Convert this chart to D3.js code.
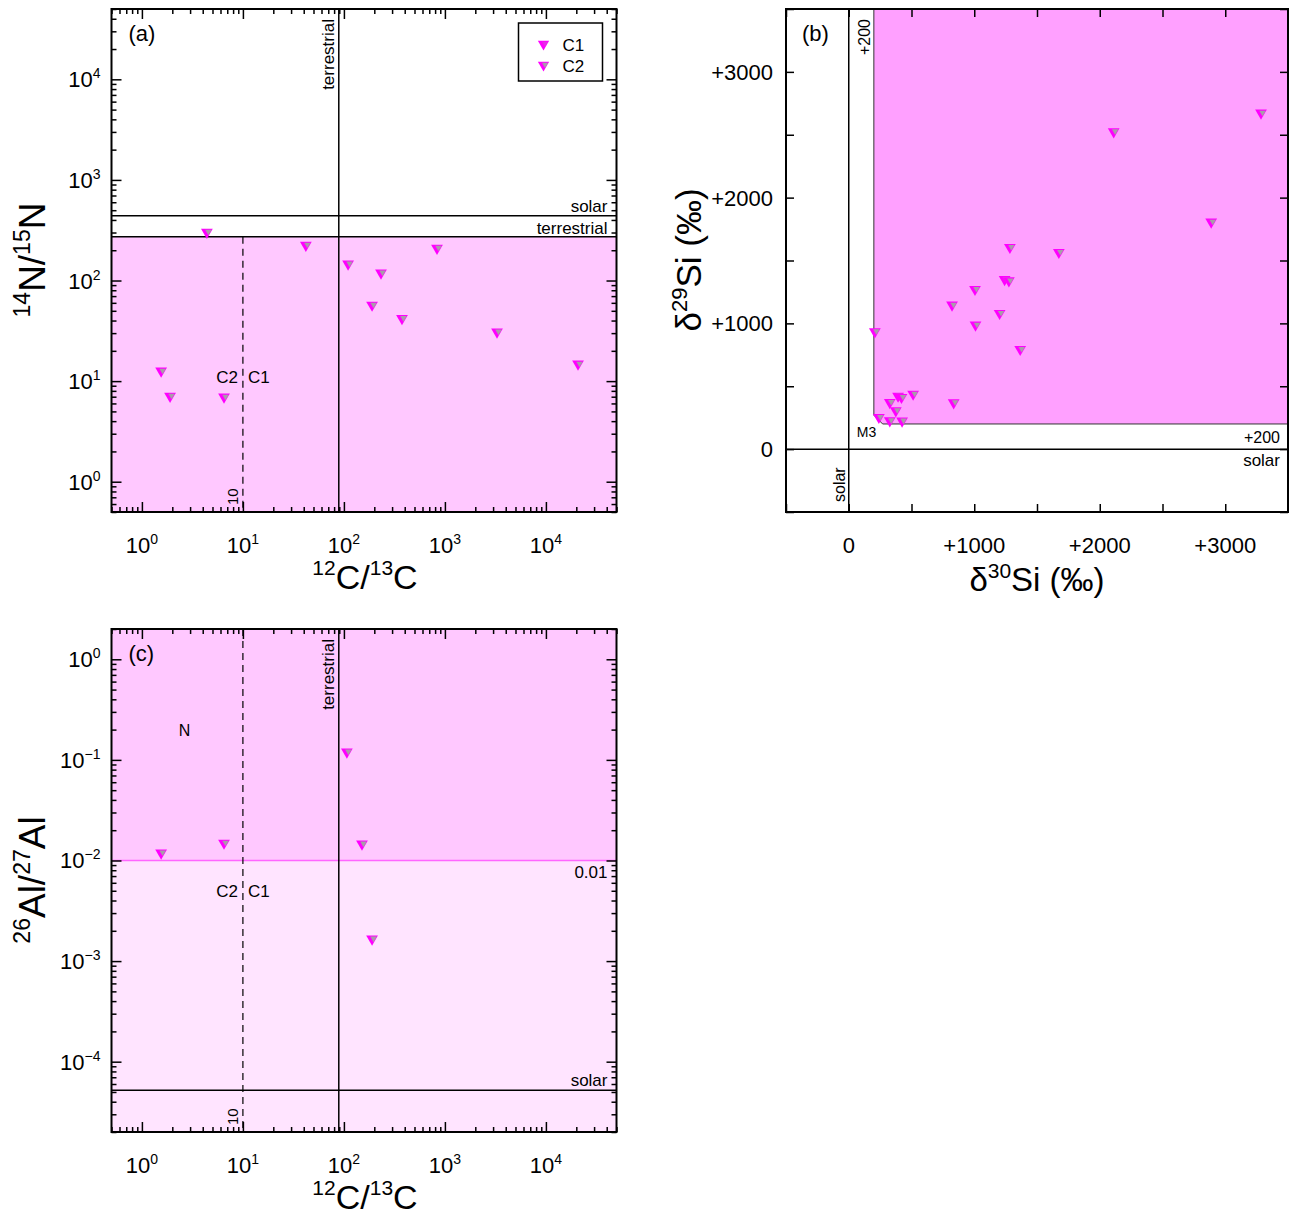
<!DOCTYPE html>
<html>
<head>
<meta charset="utf-8">
<script src="https://cdn.jsdelivr.net/npm/d3@7"></script>
<style>
  body { margin: 0; background: #fff; }
  text { font-family: "Liberation Sans", Arial, sans-serif; fill: #000; }
</style>
</head>
<body>
<svg id="fig" width="1289" height="1218"></svg>
<script>
// ---- data ----
// panel (a): 12C/13C vs 14N/15N
const panelA_C = [4.4, 42, 110, 233, 835, 190, 376, 3280, 20800, 1.55, 1.9, 6.5];
const panelA_N = [303, 225, 146, 119, 210, 57, 42, 30.8, 14.8, 12.6, 7.1, 6.95];
// panel (b): delta30Si vs delta29Si (permil)
const panelB_Si30 = [3285, 2111, 2888, 1284, 1674, 1242, 1276, 1006, 823, 1202, 1010, 208, 1366, 513, 393, 420, 327, 836, 375, 240, 327, 425];
const panelB_Si29 = [2673, 2524, 1806, 1605, 1565, 1350, 1339, 1271, 1146, 1080, 987, 934, 794, 438, 422, 412, 372, 369, 306, 253, 226, 224];
// panel (c): 12C/13C vs 26Al/27Al
const panelC_C = [1.55, 6.5, 107, 151, 190];
const panelC_Al = [0.0119, 0.0149, 0.12, 0.0146, 0.00166];

// reference values
const solarN = 441, terrN = 272, terrC = 89, splitC = 10;
const alLimit = 0.01, solarAl = 5.2e-5, siLimit = 200;
const logTicksA = [1, 10, 100, 1000, 10000];
const logTicksC = [1e-4, 1e-3, 1e-2, 1e-1, 1];
const expA = ["0", "1", "2", "3", "4"];
const expC = ["\u22124", "\u22123", "\u22122", "\u22121", "0"];
const linTicksB = [0, 1000, 2000, 3000];
const linLabelsB = ["0", "+1000", "+2000", "+3000"];
const legendNames = ["C1", "C2"];

const svg = d3.select("#fig");
const magenta = "#ff00ff";
const W = 505, H = 503;

// text with superscripts: parts are strings or {s: "..."}
function rich(sel, parts, size, supSize, rise) {
  let up = false;
  parts.forEach(p => {
    const isSup = typeof p !== "string";
    const t = sel.append("tspan").text(isSup ? p.s : p);
    if (isSup) { t.attr("font-size", supSize); if (!up) t.attr("dy", -rise); up = true; }
    else { t.attr("font-size", size); if (up) t.attr("dy", rise); up = false; }
  });
  return sel;
}

function logMinors(lo, hi) {
  const out = [];
  for (let e = Math.floor(Math.log10(lo)); e <= Math.ceil(Math.log10(hi)); e++)
    for (let m = 2; m <= 9; m++) { const v = m * Math.pow(10, e); if (v >= lo && v <= hi) out.push(v); }
  return out;
}

function ticks(g, axisFn, scale, values, size, tr) {
  g.append("g").attr("transform", tr)
    .call(axisFn(scale).tickValues(values).tickSize(-size).tickFormat(""))
    .call(a => a.select(".domain").remove())
    .selectAll("line").attr("stroke", "#000").attr("stroke-width", 1.5);
}

function frameTicks(g, x, y, w, h, xMaj, xMin, yMaj, yMin, majLen, minLen) {
  [[xMaj, majLen], [xMin, minLen]].forEach(([v, s]) => {
    ticks(g, d3.axisBottom, x, v, s, `translate(0,${h})`);
    ticks(g, d3.axisTop, x, v, s, "translate(0,0)");
  });
  [[yMaj, majLen], [yMin, minLen]].forEach(([v, s]) => {
    ticks(g, d3.axisLeft, y, v, s, "translate(0,0)");
    ticks(g, d3.axisRight, y, v, s, `translate(${w},0)`);
  });
}

function markers(g, xs, ys, x, y) {
  const outer = d3.symbol(d3.symbolTriangle, 60)();
  const inner = d3.symbol(d3.symbolTriangle, 18)();
  xs.forEach((v, i) => {
    const m = g.append("g").attr("transform", `translate(${x(v)},${y(ys[i])}) rotate(180)`);
    m.append("path").attr("d", outer).attr("fill", magenta);
    m.append("path").attr("d", inner).attr("fill", "#a89ca8").attr("transform", "translate(-1.5,0.5)");
  });
}

function clipFor(g, id, w, h) {
  g.append("clipPath").attr("id", id).append("rect").attr("width", w).attr("height", h);
  return g.append("g").attr("clip-path", `url(#${id})`);
}

function label(g, txt, x, y, anchor, size, rot) {
  const t = g.append("text").attr("font-size", size).attr("text-anchor", anchor).text(txt);
  if (rot) t.attr("transform", `translate(${x},${y}) rotate(-90)`);
  else t.attr("x", x).attr("y", y);
  return t;
}

// ---------- log-log panels (a) and (c) ----------
function carbonPanel(ox, oy, yDomain, yTicks, yExp, tag, drawInside) {
  const g = svg.append("g").attr("transform", `translate(${ox},${oy})`);
  const x = d3.scaleLog().domain([0.5, 5e4]).range([0, W]);
  const y = d3.scaleLog().domain(yDomain).range([H, 0]);
  const inside = clipFor(g, "clip" + tag, W, H);
  drawInside(inside, x, y);
  frameTicks(g, x, y, W, H, logTicksA, logMinors(0.5, 5e4), yTicks, logMinors(yDomain[0], yDomain[1]), 10, 5);
  g.append("rect").attr("width", W).attr("height", H).attr("fill", "none").attr("stroke", "#000").attr("stroke-width", 2);

  logTicksA.forEach((v, i) => {
    rich(g.append("text").attr("x", x(v)).attr("y", 544).attr("text-anchor", "middle"),
      ["10", {s: expA[i]}], 22, 14, 9);
  });
  yTicks.forEach((v, i) => {
    rich(g.append("text").attr("x", -11).attr("y", y(v) + 8).attr("text-anchor", "end"),
      ["10", {s: yExp[i]}], 22, 14, 9);
  });
  rich(g.append("text").attr("x", W / 2 + 1).attr("y", 580).attr("text-anchor", "middle"),
    [{s: "12"}, "C/", {s: "13"}, "C"], 34, 21, 14);
  label(g, "(" + tag + ")", 17, 32, "start", 22);
  return {g, x, y};
}

// (a)
carbonPanel(111.5, 9, [0.5, 5e4], logTicksA, expA, "a", (c, x, y) => {
  c.append("rect").attr("x", 0).attr("y", y(terrN)).attr("width", W).attr("height", H - y(terrN)).attr("fill", "#ffc8ff");
  c.append("line").attr("x1", 0).attr("x2", W).attr("y1", y(solarN)).attr("y2", y(solarN)).attr("stroke", "#000").attr("stroke-width", 1.5);
  c.append("line").attr("x1", 0).attr("x2", W).attr("y1", y(terrN)).attr("y2", y(terrN)).attr("stroke", "#000").attr("stroke-width", 1.5);
  c.append("line").attr("x1", x(terrC)).attr("x2", x(terrC)).attr("y1", 0).attr("y2", H).attr("stroke", "#000").attr("stroke-width", 1.5);
  c.append("line").attr("x1", x(splitC)).attr("x2", x(splitC)).attr("y1", y(terrN)).attr("y2", H)
    .attr("stroke", "#000").attr("stroke-width", 1.2).attr("stroke-dasharray", "7,5");
  markers(c, panelA_C, panelA_N, x, y);
  label(c, "terrestrial", x(terrC) - 5, 10, "end", 17, true);
  label(c, "solar", W - 9, y(solarN) - 4, "end", 17);
  label(c, "terrestrial", W - 9, y(terrN) - 3, "end", 17);
  label(c, "C2", x(splitC) - 5, 374, "end", 17);
  label(c, "C1", x(splitC) + 5, 374, "start", 17);
  label(c, "10", x(splitC) - 5, 496, "start", 15, true);
}).g.call(g => {
  rich(g.append("text").attr("transform", "translate(-67,251) rotate(-90)").attr("text-anchor", "middle"),
    [{s: "14"}, "N/", {s: "15"}, "N"], 37, 23, 15);
  // legend
  const lg = g.append("g").attr("transform", "translate(407,14)");
  lg.append("rect").attr("width", 84).attr("height", 58).attr("fill", "#fff").attr("stroke", "#000").attr("stroke-width", 1.5);
  legendNames.forEach((n, i) => {
    const m = lg.append("g").attr("transform", `translate(25,${21 + i * 21}) rotate(180)`);
    m.append("path").attr("d", d3.symbol(d3.symbolTriangle, 55)()).attr("fill", magenta);
    m.append("path").attr("d", d3.symbol(d3.symbolTriangle, 16)()).attr("fill", "#a89ca8")
      .attr("transform", "translate(-1.5,0.5)").attr("opacity", i === 0 ? 0.3 : 1);
    lg.append("text").attr("x", 44).attr("y", 28 + i * 21).attr("font-size", 17).text(n);
  });
});

// (c)
carbonPanel(111.5, 629, [2e-5, 2], logTicksC, expC, "c", (c, x, y) => {
  c.append("rect").attr("x", 0).attr("y", 0).attr("width", W).attr("height", y(alLimit)).attr("fill", "#ffc8ff");
  c.append("rect").attr("x", 0).attr("y", y(alLimit)).attr("width", W).attr("height", H - y(alLimit)).attr("fill", "#ffe4ff");
  c.append("line").attr("x1", 0).attr("x2", W).attr("y1", y(alLimit)).attr("y2", y(alLimit)).attr("stroke", "#ff66ff").attr("stroke-width", 1.5);
  c.append("line").attr("x1", 0).attr("x2", W).attr("y1", y(solarAl)).attr("y2", y(solarAl)).attr("stroke", "#000").attr("stroke-width", 1.5);
  c.append("line").attr("x1", x(terrC)).attr("x2", x(terrC)).attr("y1", 0).attr("y2", H).attr("stroke", "#000").attr("stroke-width", 1.5);
  c.append("line").attr("x1", x(splitC)).attr("x2", x(splitC)).attr("y1", 0).attr("y2", H)
    .attr("stroke", "#000").attr("stroke-width", 1.2).attr("stroke-dasharray", "7,5");
  markers(c, panelC_C, panelC_Al, x, y);
  label(c, "terrestrial", x(terrC) - 5, 10, "end", 17, true);
  label(c, "N", 73, 107, "middle", 16);
  label(c, "0.01", W - 9, y(alLimit) + 18, "end", 17);
  label(c, "solar", W - 9, y(solarAl) - 4, "end", 17);
  label(c, "C2", x(splitC) - 5, 268, "end", 17);
  label(c, "C1", x(splitC) + 5, 268, "start", 17);
  label(c, "10", x(splitC) - 5, 496, "start", 15, true);
}).g.call(g => {
  rich(g.append("text").attr("transform", "translate(-67,251) rotate(-90)").attr("text-anchor", "middle"),
    [{s: "26"}, "Al/", {s: "27"}, "Al"], 37, 23, 15);
});

// ---------- panel (b): silicon ----------
(function () {
  const w = 502, h = 503;
  const g = svg.append("g").attr("transform", "translate(786,9)");
  const x = d3.scaleLinear().domain([-500, 3500]).range([0, w]);
  const y = d3.scaleLinear().domain([-500, 3500]).range([h, 0]);
  const c = clipFor(g, "clipb", w, h);
  const cut = 70;
  const region = [[siLimit, 3500], [siLimit, siLimit + cut], [siLimit + cut, siLimit], [3500, siLimit]];
  const ln = d3.line().x(d => x(d[0])).y(d => y(d[1]));
  c.append("path").attr("d", ln(region.concat([[3500, 3500]])) + "Z").attr("fill", "#ffa0ff");
  c.append("path").attr("d", ln(region)).attr("fill", "none").attr("stroke", "#333").attr("stroke-width", 1);
  c.append("line").attr("x1", x(0)).attr("x2", x(0)).attr("y1", 0).attr("y2", h).attr("stroke", "#000").attr("stroke-width", 1.5);
  c.append("line").attr("x1", 0).attr("x2", w).attr("y1", y(0)).attr("y2", y(0)).attr("stroke", "#000").attr("stroke-width", 1.5);
  markers(c, panelB_Si30, panelB_Si29, x, y);
  label(c, "+200", x(siLimit) - 4, 10, "end", 16, true);
  label(c, "+200", w - 8, y(siLimit) + 19, "end", 16);
  label(c, "solar", w - 8, y(0) + 17, "end", 17);
  label(c, "solar", x(0) - 4, h - 10, "start", 16, true);
  label(c, "M3", x(siLimit) - 17, y(siLimit) + 13, "start", 14);

  const minor = d3.range(-500, 3501, 500);
  frameTicks(g, x, y, w, h, minor, [], minor, [], 8, 0);
  g.append("rect").attr("width", w).attr("height", h).attr("fill", "none").attr("stroke", "#000").attr("stroke-width", 2);

  linTicksB.forEach((v, i) => {
    g.append("text").attr("x", x(v)).attr("y", 544).attr("text-anchor", "middle").attr("font-size", 22).text(linLabelsB[i]);
    g.append("text").attr("x", -13).attr("y", y(v) + 8).attr("text-anchor", "end").attr("font-size", 22).text(linLabelsB[i]);
  });
  rich(g.append("text").attr("x", 251).attr("y", 582).attr("text-anchor", "middle"),
    ["\u03b4", {s: "30"}, "Si (\u2030)"], 33, 21, 13);
  rich(g.append("text").attr("transform", "translate(-85,251) rotate(-90)").attr("text-anchor", "middle"),
    ["\u03b4", {s: "29"}, "Si (\u2030)"], 35, 22, 14);
  label(g, "(b)", 16, 32, "start", 22);
})();
</script>
</body>
</html>
